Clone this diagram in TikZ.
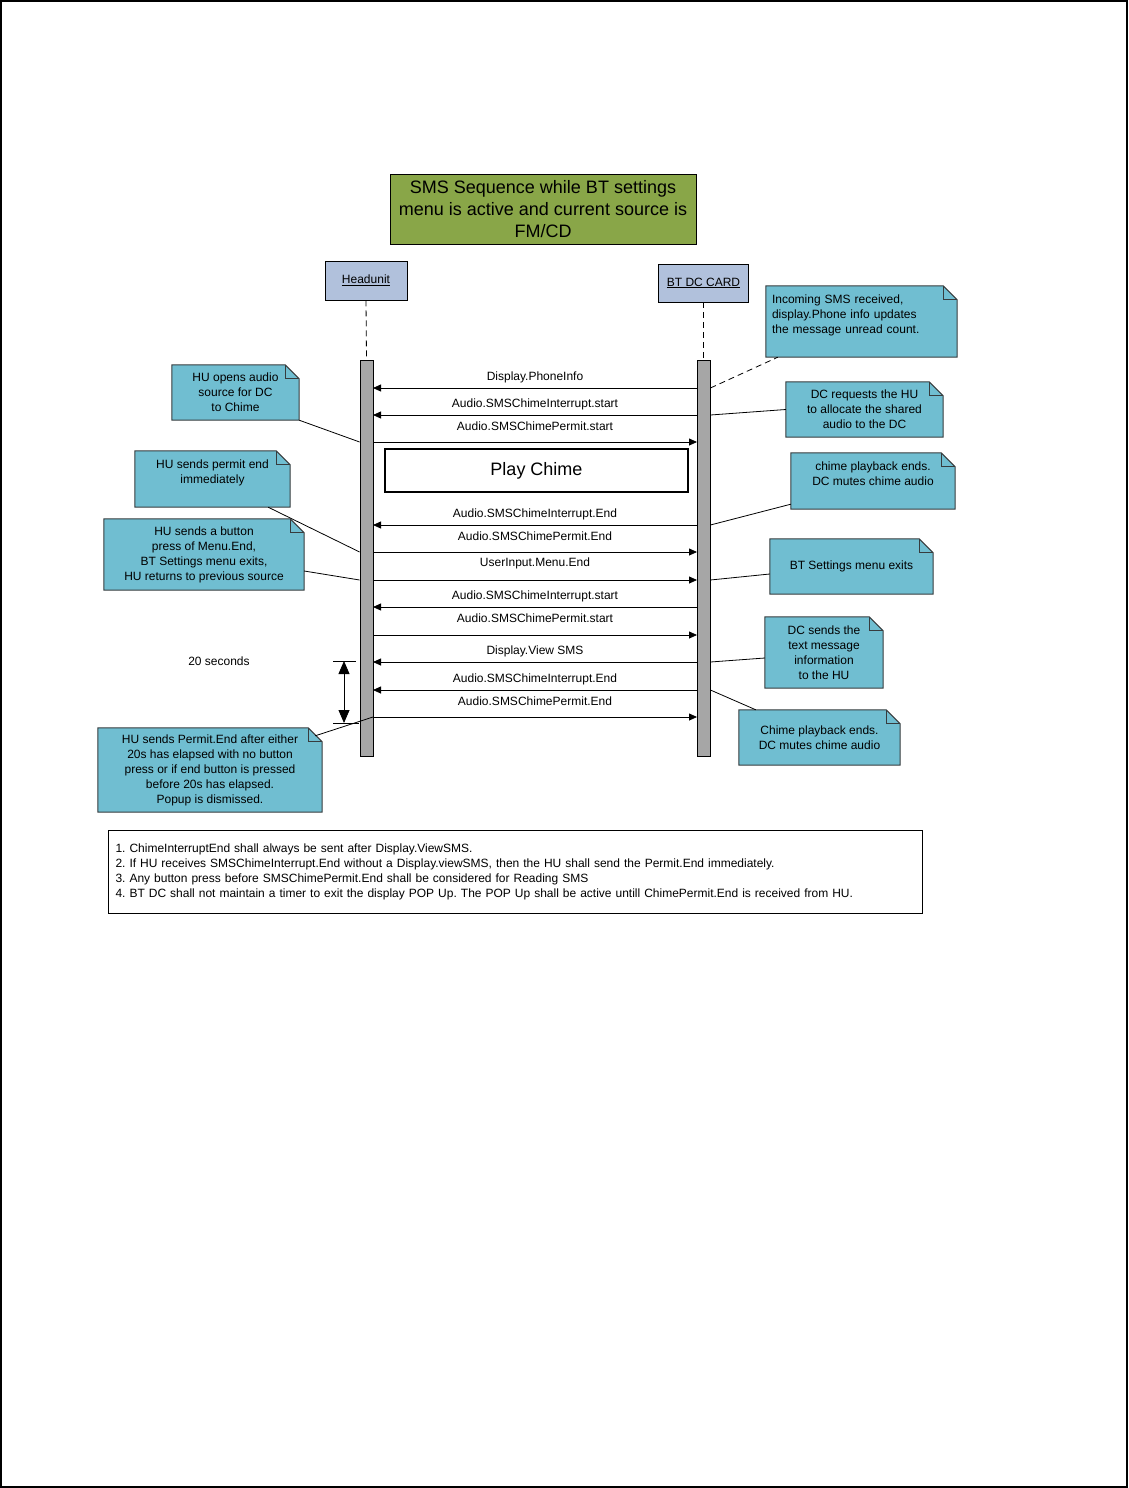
\documentclass[tikz,border=0pt]{standalone}
\usepackage{fontspec}
\setmainfont{Liberation Sans}
\usetikzlibrary{arrows.meta,backgrounds}
\definecolor{titlegreen}{RGB}{137,166,72}
\definecolor{headblue}{RGB}{177,193,220}
\definecolor{notecyan}{RGB}{112,190,209}
\definecolor{notebd}{RGB}{55,60,62}
\definecolor{bargray}{RGB}{166,166,166}
\frenchspacing
\begin{document}
\begin{tikzpicture}[x=1pt,y=-1pt,
	every node/.style={font=\fontsize{12}{15}\selectfont,inner sep=0pt},
	head/.style={draw,fill=headblue,line width=0.8pt},
	bar/.style={draw,fill=bargray,minimum width=13pt,minimum height=396pt,line width=0.8pt},
	note/.style={align=center},
	msg/.style={line width=0.8pt,-{Triangle[length=8pt,width=7pt]}},
	link/.style={line width=0.8pt}]
	\useasboundingbox (0,0) rectangle (1128,1488);
	\draw[line width=2pt] (1,1) rectangle (1127,1487);

	\node[draw,fill=titlegreen,line width=1pt,minimum width=306pt,minimum height=70pt,align=center,font=\fontsize{18}{22}\selectfont] (title) at (543,209) {SMS Sequence while BT settings\\menu is active and current source is\\FM/CD};

	\node[head,minimum width=82pt,minimum height=39pt] (hu) at (366,280.5) {\underline{Headunit}};
	\node[head,minimum width=90pt,minimum height=38pt] (dc) at (703.5,283) {\underline{BT DC CARD}};
	\node[bar] (hubar) at (366.5,558) {};
	\node[bar] (dcbar) at (703.5,558) {};
	\draw[link,dash pattern=on 6pt off 4pt] (hu.south) -- (hubar.north);
	\draw[link,dash pattern=on 6pt off 4pt] (dc.south) -- (dcbar.north);

	\foreach \y/\ly/\a/\b/\txt [count=\i] in {
		388/377/d/h/Display.PhoneInfo,
		415/404/d/h/Audio.SMSChimeInterrupt.start,
		442/426/h/d/Audio.SMSChimePermit.start,
		525/514/d/h/Audio.SMSChimeInterrupt.End,
		552/536/h/d/Audio.SMSChimePermit.End,
		580/563/h/d/UserInput.Menu.End,
		607/596/d/h/Audio.SMSChimeInterrupt.start,
		635/618/h/d/Audio.SMSChimePermit.start,
		662/651/d/h/Display.View SMS,
		690/679/d/h/Audio.SMSChimeInterrupt.End,
		717/701/h/d/Audio.SMSChimePermit.End}
	{
		\coordinate (h\i) at (373,\y);
		\coordinate (d\i) at (697,\y);
		\draw[msg] (\a\i) -- (\b\i);
		\node (m\i) at (535,\ly) {\txt};
	}

	\node[draw,line width=1.2pt,minimum width=303pt,minimum height=43pt,font=\fontsize{18}{22}\selectfont] (chime) at (536.5,470.5) {Play Chime};

	\node[note,minimum width=127pt,minimum height=55pt] (n1) at (235.5,392.5) {HU opens audio\\source for DC\\to Chime};
	\node[note,minimum width=155pt,minimum height=56pt] (n2) at (212.5,479) {HU sends permit end\\immediately\\\mbox{}};
	\node[note,minimum width=200pt,minimum height=71pt] (n3) at (204,554.5) {HU sends a button\\press of Menu.End,\\BT Settings menu exits,\\HU returns to previous source};
	\node[note,minimum width=224pt,minimum height=84pt] (n4) at (210,770) {HU sends Permit.End after either\\20s has elapsed with no button\\press or if end button is pressed\\before 20s has elapsed.\\Popup is dismissed.};
	\node[align=left,text width=179pt,inner xsep=6pt,minimum height=71pt] (r1) at (861.5,321.5) {Incoming SMS received,\\display.Phone info updates\\the message unread count.\\\mbox{}};
	\node[note,minimum width=157pt,minimum height=55pt] (r2) at (864.5,409.5) {DC requests the HU\\to allocate the shared\\audio to the DC};
	\node[note,minimum width=164pt,minimum height=56pt] (r3) at (873,481) {chime playback ends.\\DC mutes chime audio\\\mbox{}};
	\node[note,minimum width=163pt,minimum height=55pt] (r4) at (851.5,566.5) {BT Settings menu exits};
	\node[note,minimum width=118pt,minimum height=71pt] (r5) at (824,652.5) {DC sends the\\text message\\information\\to the HU};
	\node[note,minimum width=161pt,minimum height=55pt] (r6) at (819.5,737.5) {Chime playback ends.\\DC mutes chime audio};

	\begin{scope}[on background layer]
		\foreach \n in {n1,n2,n3,n4,r1,r2,r3,r4,r5,r6}
		{
			\filldraw[fill=notecyan,draw=notebd,line width=1pt] (\n.north west) -- ([xshift=-14pt]\n.north east) -- ([yshift=-14pt]\n.north east) -- (\n.south east) -- (\n.south west) -- cycle;
			\draw[notebd,line width=1pt] ([xshift=-14pt]\n.north east) |- ([yshift=-14pt]\n.north east);
		}
	\end{scope}

	\draw[link] (n1.south east) -- (hubar.west |- h3);
	\draw[link] ([xshift=-22pt]n2.south east) -- (hubar.west |- h5);
	\draw[link] ([yshift=-16.5pt]n3.east) -- (hubar.west |- h6);
	\draw[link] ([shift={(-7pt,-8pt)}]n4.north east) -- (h11);
	\draw[link,dash pattern=on 6pt off 4pt] (dcbar.east |- d1) -- ([xshift=12pt]r1.south west);
	\draw[link] (dcbar.east |- d2) -- (r2.west);
	\draw[link] (dcbar.east |- d4) -- ([yshift=5pt]r3.south west);
	\draw[link] (dcbar.east |- d6) -- ([yshift=-7.5pt]r4.west);
	\draw[link] (dcbar.east |- d9) -- ([yshift=-5.5pt]r5.west);
	\draw[link] (dcbar.east |- d10) -- ([xshift=17pt]r6.north west);

	\node (sec) at (219,661) {20 seconds};
	\coordinate (t1) at (344,661);
	\coordinate (t2) at (344,723);
	\draw[link] ([xshift=-11pt]t1) -- ([xshift=12pt]t1);
	\draw[link] ([xshift=-11pt]t2) -- ([xshift=15pt]t2);
	\draw[link,{Triangle[length=13pt,width=11pt]}-{Triangle[length=13pt,width=11pt]}] (t1) -- (t2);

	\node[draw,line width=1pt,anchor=north west,text width=800pt,inner xsep=7pt,minimum height=83pt,align=left] (rules) at (108,830) {1. ChimeInterruptEnd shall always be sent after Display.ViewSMS.\\2. If HU receives SMSChimeInterrupt.End without a Display.viewSMS, then the HU shall send the Permit.End immediately.\\3. Any button press before SMSChimePermit.End shall be considered for Reading SMS\\4. BT DC shall not maintain a timer to exit the display POP Up. The POP Up shall be active untill ChimePermit.End is received from HU.};
\end{tikzpicture}
\end{document}
